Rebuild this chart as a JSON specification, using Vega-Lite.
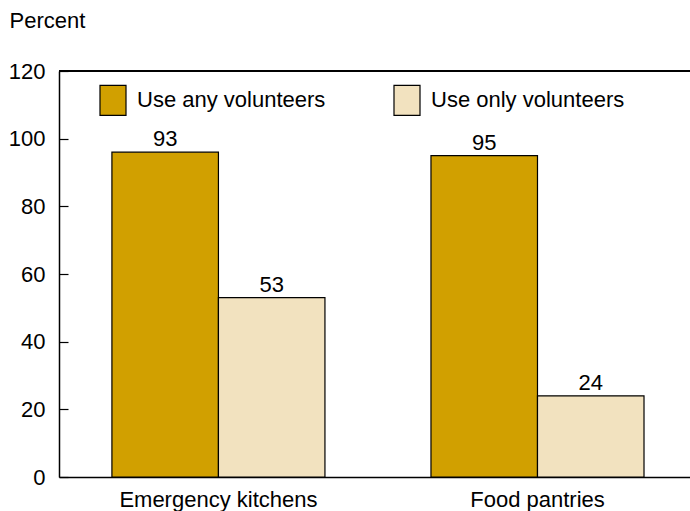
{
  "$schema": "https://vega.github.io/schema/vega-lite/v6.json",
  "width": 631,
  "height": 406,
  "autosize": {"type": "none"},
  "padding": {"left": 59, "top": 71, "right": 0, "bottom": 34},
  "background": "white",
  "config": {
    "view": {"stroke": null},
    "font": "Liberation Sans",
    "axis": {"grid": false}
  },
  "data": {
    "values": [
      {"category": "Emergency kitchens", "series": "Use any volunteers", "value": 96, "label": "93"},
      {"category": "Emergency kitchens", "series": "Use only volunteers", "value": 53, "label": "53"},
      {"category": "Food pantries", "series": "Use any volunteers", "value": 95, "label": "95"},
      {"category": "Food pantries", "series": "Use only volunteers", "value": 24, "label": "24"}
    ]
  },
  "layer": [
    {
      "mark": {"type": "bar", "stroke": "black", "strokeWidth": 1.2},
      "encoding": {
        "x": {
          "field": "category",
          "type": "nominal",
          "sort": ["Emergency kitchens", "Food pantries"],
          "scale": {"paddingInner": 0.3323, "paddingOuter": 0.155, "align": 0.535},
          "axis": {
            "title": null,
            "labelAngle": 0,
            "ticks": false,
            "domainColor": "black",
            "domainWidth": 1.5,
            "labelFontSize": 22,
            "labelColor": "black",
            "labelPadding": 12,
            "labelLimit": 400,
            "labelFont": "Liberation Sans"
          }
        },
        "xOffset": {
          "field": "series",
          "type": "nominal",
          "sort": ["Use any volunteers", "Use only volunteers"],
          "scale": {"paddingInner": 0, "paddingOuter": 0}
        },
        "y": {
          "field": "value",
          "type": "quantitative",
          "scale": {"domain": [0, 120], "nice": false},
          "axis": {
            "values": [0, 20, 40, 60, 80, 100, 120],
            "title": "Percent",
            "titleAngle": 0,
            "titleAlign": "left",
            "titleBaseline": "alphabetic",
            "titleX": -50,
            "titleY": -44,
            "titleFontSize": 22,
            "titleFontWeight": "normal",
            "titleColor": "black",
            "titleFont": "Liberation Sans",
            "tickSize": -9,
            "tickColor": "black",
            "tickWidth": 1.2,
            "domainColor": "black",
            "domainWidth": 1.5,
            "labelFontSize": 22,
            "labelColor": "black",
            "labelPadding": 23,
            "labelFont": "Liberation Sans"
          }
        },
        "color": {
          "field": "series",
          "type": "nominal",
          "sort": ["Use any volunteers", "Use only volunteers"],
          "scale": {"range": ["#D1A000", "#F2E2BF"]},
          "legend": {
            "title": null,
            "orient": "none",
            "legendX": 38,
            "legendY": 13,
            "direction": "horizontal",
            "symbolType": "M-0.867,-1H0.867V1H-0.867Z",
            "symbolSize": 900,
            "symbolStrokeColor": "black",
            "symbolStrokeWidth": 1.2,
            "symbolOpacity": 1,
            "labelFontSize": 22,
            "labelColor": "black",
            "labelFont": "Liberation Sans",
            "labelOffset": 8,
            "columnPadding": 65,
            "labelLimit": 400
          }
        }
      }
    },
    {
      "mark": {"type": "text", "baseline": "alphabetic", "dy": -6, "fontSize": 22, "color": "black", "font": "Liberation Sans"},
      "encoding": {
        "x": {"field": "category", "type": "nominal", "sort": ["Emergency kitchens", "Food pantries"]},
        "xOffset": {"field": "series", "type": "nominal", "sort": ["Use any volunteers", "Use only volunteers"]},
        "y": {"field": "value", "type": "quantitative"},
        "text": {"field": "label"}
      }
    },
    {
      "mark": {"type": "rule", "color": "black", "strokeWidth": 1.5},
      "encoding": {"y": {"datum": 120}}
    }
  ]
}
